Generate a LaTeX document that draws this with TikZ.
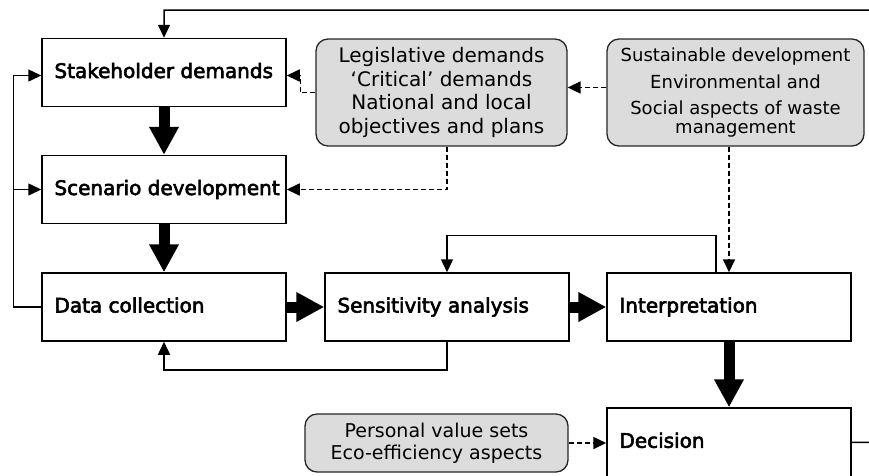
\documentclass[tikz,border=0pt]{standalone}
\usepackage{fontspec}
\setmainfont{DejaVu Sans}
\newfontfamily\boxfont[FakeBold=3]{DejaVu Sans}
\usetikzlibrary{arrows.meta,calc}
\definecolor{panelgray}{HTML}{DCDCDC}
\begin{document}
\begin{tikzpicture}[x=1pt,y=-1pt,
  mainbox/.style={draw, line width=1.5pt, minimum width=244pt, minimum height=68pt, inner sep=0pt},
  mainlabel/.style={anchor=west, inner sep=0pt, text height=15pt, text depth=4pt,
    font=\boxfont\fontsize{20}{24}\selectfont},
  infobox/.style={draw=black!85, fill=panelgray, line width=1.3pt, rounded corners=12pt,
    inner sep=0pt, align=center},
  flow/.style={line width=1.5pt, -{Triangle[length=13pt,width=12pt]}},
  hint/.style={flow, line width=1.7pt, dash pattern=on 5pt off 3pt},
  bigflow/.style={line width=11pt, -{Triangle[length=28pt,width=28pt]}},
]
\useasboundingbox (0,0) rectangle (869,475);
\clip (0,0) rectangle (869,475);

% process boxes
\node[mainbox] (sd) at (164,72.5) {};
\node[mainbox] (sc) at (164,189.5) {};
\node[mainbox] (dc) at (164,307) {};
\node[mainbox] (sa) at (447,307) {};
\node[mainbox] (in) at (729,307) {};
\node[mainbox, minimum height=84pt] (de) at (729,450) {};

\node[mainlabel] (sdl) at ([xshift=13pt]sd.west) {Stakeholder demands};
\node[mainlabel] (scl) at ([xshift=13pt]sc.west) {Scenario development};
\node[mainlabel] (dcl) at ([xshift=13pt]dc.west) {Data collection};
\node[mainlabel] (sal) at ([xshift=13pt]sa.west) {Sensitivity analysis};
\node[mainlabel] (inl) at ([xshift=13pt]in.west) {Interpretation};
\node[mainlabel] (del) at ($(de.north west)+(13,35)$) {Decision};

% context boxes
\node[infobox, minimum width=251pt, minimum height=107pt,
  font=\fontsize{20}{23.5}\selectfont] (leg) at (441.5,92.5)
  {Legislative demands\\ ‘Critical’ demands\\ National and local\\ objectives and plans};
\node[infobox, minimum width=257pt, minimum height=107pt,
  font=\fontsize{18}{19}\selectfont] (sus) at (735.5,92.5)
  {Sustainable development\\[8pt] Environmental and\\[7pt] Social aspects of waste\\ management};
\node[infobox, minimum width=263pt, minimum height=58pt,
  font=\fontsize{19}{22}\selectfont] (per) at (436.5,443)
  {Personal value sets\\ Eco-efficiency aspects};

% main flow
\draw[bigflow] (sd.south) -- (sc.north);
\draw[bigflow] (sc.south) -- (dc.north);
\draw[bigflow] (dc.east) -- (sa.west);
\draw[bigflow] (sa.east) -- (in.west);
\draw[bigflow] (in.south) -- (de.north);

% feedback loops
\coordinate (deout) at ($(de.north east)+(0,35)$);
\draw[flow] (deout) -- (910,443) -- (910,10) -| (sd.north);
\draw[flow] (dc.west) -- ++(-28,0) |- ([yshift=-3pt]sd.west);
\draw[flow] (14,0 |- sc.west) -- (sc.west);
\draw[flow] (sa.south) -- ++(0,28) -| (dc.south);
\draw[flow] ([xshift=-13pt]in.north) -- ++(0,-37) -| (sa.north);

% context influences
\draw[hint] (leg.west) -- ++(-15,0) |- ([yshift=-3pt]sd.east);
\draw[hint] ([xshift=5.5pt]leg.south) |- (sc.east);
\draw[hint] ([yshift=5pt]sus.west) -- ([yshift=5pt]leg.east);
\draw[hint] (sus.south -| in.north) -- (in.north);
\draw[hint] (per.east) -- (per.east -| de.west);
\end{tikzpicture}
\end{document}
